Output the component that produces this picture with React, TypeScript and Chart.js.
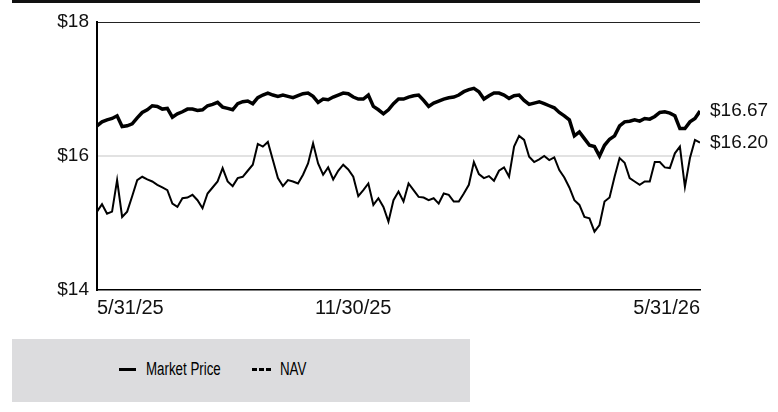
import { useEffect, useRef } from 'react';
import { Chart, registerables } from 'chart.js';

Chart.register(...registerables);

// upper (thick) line
const navPrices = [
  16.45, 16.51, 16.54, 16.56, 16.6, 16.44, 16.45, 16.48, 16.57, 16.65,
  16.69, 16.75, 16.74, 16.7, 16.71, 16.58, 16.63, 16.66, 16.7, 16.7,
  16.68, 16.69, 16.75, 16.77, 16.8, 16.73, 16.71, 16.69, 16.78, 16.81,
  16.82, 16.78, 16.87, 16.91, 16.94, 16.91, 16.89, 16.91, 16.89, 16.87,
  16.9, 16.93, 16.94, 16.89, 16.8, 16.85, 16.84, 16.88, 16.91, 16.94,
  16.93, 16.88, 16.85, 16.85, 16.91, 16.74, 16.69, 16.63, 16.69, 16.78,
  16.85, 16.85, 16.88, 16.9, 16.91, 16.83, 16.74, 16.79, 16.82, 16.85,
  16.87, 16.88, 16.91, 16.96, 16.99, 17.01, 16.96, 16.85, 16.9, 16.94,
  16.94, 16.91, 16.86, 16.9, 16.91, 16.83, 16.77, 16.79, 16.81, 16.78,
  16.75, 16.72, 16.65, 16.6, 16.54, 16.3, 16.36, 16.26, 16.16, 16.14,
  16.0, 16.16, 16.25, 16.3, 16.45, 16.51, 16.52, 16.54, 16.52, 16.56,
  16.55, 16.59, 16.65, 16.66, 16.64, 16.6, 16.41, 16.41, 16.51, 16.56,
  16.67,
];

// lower (thin) line
const marketPrices = [
  15.17, 15.28, 15.14, 15.17, 15.64, 15.09, 15.17, 15.4, 15.64, 15.69,
  15.65, 15.62, 15.57, 15.53, 15.49, 15.29, 15.24, 15.37, 15.38, 15.42,
  15.34, 15.22, 15.44, 15.53, 15.62, 15.82, 15.62, 15.55, 15.67, 15.69,
  15.78, 15.87, 16.18, 16.14, 16.21, 15.94, 15.67, 15.55, 15.64, 15.62,
  15.59, 15.72, 15.89, 16.19, 15.89, 15.72, 15.83, 15.65, 15.78, 15.87,
  15.8, 15.69, 15.4, 15.49, 15.59, 15.27, 15.37, 15.24, 15.02, 15.34,
  15.47, 15.32, 15.59, 15.49, 15.39, 15.38, 15.34, 15.37, 15.29, 15.44,
  15.42, 15.32, 15.32, 15.44, 15.57, 15.91, 15.73, 15.67, 15.7, 15.63,
  15.78, 15.83, 15.69, 16.14, 16.3, 16.24, 15.99, 15.91, 15.95, 16.0,
  15.94, 15.98, 15.79, 15.68, 15.53, 15.34, 15.27, 15.09, 15.07, 14.87,
  14.97, 15.32, 15.38, 15.69, 15.97, 15.9, 15.67, 15.62, 15.57, 15.62,
  15.62, 15.91, 15.91, 15.83, 15.82, 16.04, 16.14, 15.54, 15.97, 16.24,
  16.2,
];

const xTickLabels = ['5/31/25', '11/30/25', '5/31/26'];
const xTickIndex = [0, 51, 120];
const yTicks = [14, 16, 18];

const FONT = '"Liberation Sans", Arial, Helvetica, sans-serif';

// "$16.67" style labels next to the last point of each line
const lastValueLabels = {
  id: 'lastValueLabels',
  afterDatasetsDraw(chart: Chart) {
    const ctx = chart.ctx;
    ctx.save();
    ctx.font = `19px ${FONT}`;
    ctx.fillStyle = '#111';
    ctx.textAlign = 'left';
    ctx.textBaseline = 'middle';
    chart.data.datasets.forEach((ds, i) => {
      const meta = chart.getDatasetMeta(i);
      const pt = meta.data[meta.data.length - 1];
      const last = ds.data[ds.data.length - 1] as { y: number };
      ctx.fillText(`$${last.y.toFixed(2)}`, pt.x + 10, pt.y);
    });
    ctx.restore();
  },
};

export default function App() {
  const canvasRef = useRef<HTMLCanvasElement>(null);

  useEffect(() => {
    if (!canvasRef.current) return;
    const ctx = canvasRef.current.getContext('2d');
    if (!ctx) return;

    const chart = new Chart(ctx, {
      type: 'line',
      data: {
        datasets: [
          {
            label: 'NAV',
            data: navPrices.map((y, x) => ({ x, y })),
            borderColor: '#000',
            borderWidth: 3.5,
            pointRadius: 0,
            tension: 0,
          },
          {
            label: 'Market Price',
            data: marketPrices.map((y, x) => ({ x, y })),
            borderColor: '#000',
            borderWidth: 2,
            pointRadius: 0,
            tension: 0,
          },
        ],
      },
      options: {
        animation: false,
        responsive: false,
        layout: {
          autoPadding: false,
          padding: { top: 22, right: 78, bottom: 0, left: 0 },
        },
        plugins: {
          legend: { display: false },
          tooltip: { enabled: false },
        },
        scales: {
          x: {
            type: 'linear',
            min: 0,
            max: navPrices.length - 1,
            afterBuildTicks: (scale) => {
              scale.ticks = xTickIndex.map((value) => ({ value }));
            },
            afterFit: (scale) => {
              scale.height = 40;
            },
            ticks: {
              autoSkip: false,
              maxRotation: 0,
              align: 'inner',
              padding: 6,
              color: '#111',
              font: { family: FONT, size: 20 },
              callback: (v) => xTickLabels[xTickIndex.indexOf(Number(v))],
            },
            grid: { display: false, drawTicks: false },
            border: { color: '#000', width: 1.5 },
          },
          y: {
            min: yTicks[0],
            max: yTicks[yTicks.length - 1],
            afterBuildTicks: (scale) => {
              scale.ticks = yTicks.map((value) => ({ value }));
            },
            afterFit: (scale) => {
              scale.width = 97;
            },
            ticks: {
              padding: 8,
              color: '#111',
              font: { family: FONT, size: 19 },
              callback: (v) => `$${v}`,
            },
            grid: {
              drawTicks: false,
              color: (c) =>
                c.tick?.value === 18 ? '#222' : c.tick?.value === 16 ? '#e2e2e2' : 'rgba(0,0,0,0)',
              lineWidth: (c) => (c.tick?.value === 16 ? 2 : 1),
            },
            border: { color: '#000', width: 2 },
          },
        },
      },
      plugins: [lastValueLabels],
    });

    return () => chart.destroy();
  }, []);

  const legendText = {
    position: 'absolute' as const,
    top: 20,
    fontFamily: FONT,
    fontSize: 18,
    lineHeight: '20px',
    color: '#000',
    whiteSpace: 'nowrap' as const,
    transform: 'scaleX(0.74)',
    transformOrigin: 'left center',
  };

  return (
    <div
      style={{
        position: 'fixed',
        left: 0,
        top: 0,
        width: 778,
        height: 412,
        background: '#fff',
      }}
    >
      <div style={{ position: 'absolute', left: 12, top: 0, width: 688, height: 3, background: '#111' }} />
      <canvas
        ref={canvasRef}
        width={778}
        height={330}
        style={{ position: 'absolute', left: 0, top: 0, width: 778, height: 330 }}
      />
      <div
        style={{
          position: 'absolute',
          left: 12,
          top: 339,
          width: 458,
          height: 63,
          background: '#dcdcde',
        }}
      >
        <div style={{ position: 'absolute', left: 107, top: 29, width: 17, height: 3, background: '#000' }} />
        <div style={{ ...legendText, left: 134 }}>Market Price</div>
        <div
          style={{
            position: 'absolute',
            left: 240,
            top: 29,
            width: 19,
            height: 3,
            background: 'repeating-linear-gradient(90deg, #000 0 5px, transparent 5px 7px)',
          }}
        />
        <div style={{ ...legendText, left: 268 }}>NAV</div>
      </div>
    </div>
  );
}
